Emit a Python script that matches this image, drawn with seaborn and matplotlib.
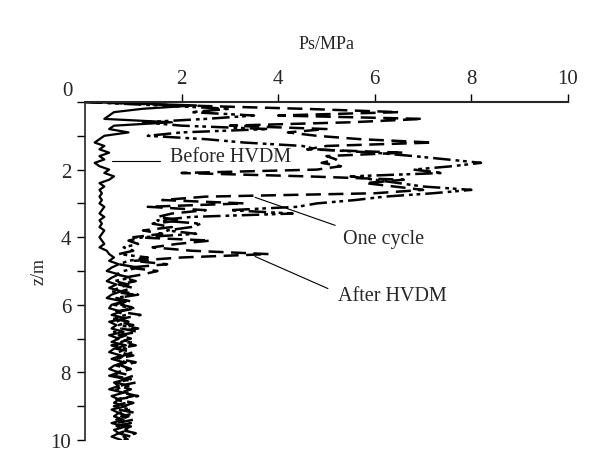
import matplotlib
matplotlib.use("Agg")
import matplotlib.pyplot as plt
import seaborn as sns
import pandas as pd

# depth (m), 0.1 m step
depth = [round(i * 0.1, 1) for i in range(101)]

# cone resistance Ps (MPa) for each stage
ps_before = [
    0.0, 2.3, 1.2, 0.6, 0.5, 0.4, 1.8, 0.6, 0.5, 0.9,
    0.4, 0.3, 0.2, 0.4, 0.3, 0.5, 0.3, 0.4, 0.2, 0.3,
    0.5, 0.4, 0.6, 0.5, 0.3, 0.4, 0.3, 0.35, 0.3, 0.35,
    0.3, 0.4, 0.35, 0.3, 0.4, 0.3, 0.35, 0.3, 0.4, 0.35,
    0.3, 0.35, 0.4, 0.3, 0.45, 0.5, 0.6, 0.5, 0.7, 0.55,
    0.45, 0.7, 0.55, 0.45, 0.65, 0.5, 0.75, 0.55, 0.45, 0.8,
    0.55, 0.5, 0.75, 0.55, 0.85, 0.5, 0.65, 0.55, 0.8, 0.5,
    0.7, 0.55, 0.85, 0.6, 0.5, 0.75, 0.55, 0.8, 0.6, 0.5,
    0.7, 0.5, 0.85, 0.6, 0.7, 0.5, 0.8, 0.55, 0.7, 0.6,
    0.85, 0.55, 0.7, 0.6, 0.8, 0.55, 0.85, 0.6, 0.7, 0.55, 0.75,
]
ps_one_cycle = [
    0.0, 1.5, 3.0, 2.2, 3.5, 2.5, 1.2, 2.0, 3.8, 2.0,
    1.3, 2.5, 3.3, 4.5, 4.8, 6.0, 6.8, 7.5, 8.2, 7.6,
    6.8, 7.4, 5.5, 6.0, 6.5, 7.0, 8.0, 7.2, 6.2, 5.6,
    4.8, 4.4, 3.0, 4.3, 2.2, 1.5, 2.4, 2.2, 1.7, 2.3,
    1.2, 0.9, 1.1, 0.8, 1.0, 0.7, 1.3, 0.9, 0.7, 1.1,
    0.8, 0.65, 0.95, 0.6, 0.9, 0.7, 0.55, 1.0, 0.65, 0.85,
    0.6, 1.0, 0.65, 0.85, 0.55, 0.9, 0.7, 1.1, 0.6, 0.85,
    0.65, 0.95, 0.55, 0.85, 0.7, 1.0, 0.6, 0.85, 0.65, 0.95,
    0.7, 0.6, 0.95, 0.65, 0.9, 0.6, 0.85, 1.0, 0.65, 0.85,
    0.6, 0.95, 0.7, 0.9, 0.65, 0.95, 0.6, 0.9, 0.7, 0.95, 0.8,
]
ps_after = [
    0.0, 2.0, 4.5, 6.5, 4.0, 7.0, 5.5, 3.0, 5.0, 4.2,
    4.8, 5.7, 7.2, 5.0, 4.6, 6.6, 5.0, 5.2, 4.9, 5.3,
    4.8, 2.0, 4.6, 6.6, 5.8, 6.4, 7.0, 6.0, 2.5, 1.6,
    3.3, 1.3, 2.5, 1.8, 1.5, 2.0, 1.4, 1.8, 1.2, 1.6,
    1.0, 2.6, 1.9, 1.4, 2.2, 3.8, 2.0, 1.0, 1.7, 0.9,
    1.5, 1.2, 0.8, 1.05, 0.7, 1.0, 0.75, 1.1, 0.65, 0.95,
    0.75, 1.05, 0.7, 1.15, 0.8, 0.65, 1.0, 0.75, 1.1, 0.7,
    0.95, 0.75, 1.05, 0.65, 1.0, 0.8, 0.7, 1.05, 0.75, 0.95,
    0.65, 1.0, 0.8, 1.05, 0.7, 0.95, 0.75, 1.1, 0.65, 1.0,
    0.8, 0.7, 1.05, 0.75, 1.0, 0.65, 0.95, 0.75, 1.05, 0.8, 0.9,
]

x_ticks = [2, 4, 6, 8, 10]
y_ticks = list(range(0, 11))
y_tick_labels = ["" if (t % 2 or t == 0) else str(t) for t in y_ticks]

sns.set_style("ticks")
plt.rcParams["font.family"] = ["Liberation Serif", "DejaVu Serif"]

fig = plt.figure(figsize=(6.11, 4.56), dpi=100)
ax = fig.add_axes([85 / 611, 1 - 441 / 456, (568 - 85) / 611, (441 - 103) / 456])

df = pd.DataFrame({"z": depth, "before": ps_before,
                   "one": ps_one_cycle, "after": ps_after})

sns.lineplot(data=df, x="before", y="z", sort=False, estimator=None,
             color="black", lw=1.6, ax=ax)
sns.lineplot(data=df, x="one", y="z", sort=False, estimator=None,
             color="black", lw=1.8, ax=ax)
sns.lineplot(data=df, x="after", y="z", sort=False, estimator=None,
             color="black", lw=1.8, ax=ax)
ax.lines[1].set_linestyle((0, (7, 2, 1.5, 1.5, 1.5, 2)))
ax.lines[2].set_linestyle((0, (6, 3)))

ax.set_xlim(0, 10)
ax.set_ylim(10, 0)
ax.xaxis.tick_top()
ax.xaxis.set_label_position("top")
ax.set_xticks(x_ticks)
ax.set_yticks(y_ticks)
ax.set_yticklabels(y_tick_labels)
ax.tick_params(axis="both", direction="out", length=6, width=1,
               labelsize=15, color="black", pad=4)
ax.set_xlabel("Ps/MPa", fontsize=13, labelpad=15)
ax.set_ylabel("z/m", fontsize=13, labelpad=2)
for s in ["right", "bottom"]:
    ax.spines[s].set_visible(False)
ax.spines["top"].set_linewidth(1.5)
ax.spines["left"].set_linewidth(1.2)
ax.text(-0.025, 1.035, "0", transform=ax.transAxes, fontsize=15,
        ha="right", va="center")

# labels with leader lines
ax.plot([0.55, 1.55], [1.75, 1.75], color="black", lw=0.8)
ax.text(1.76, 1.6, "Before HVDM", fontsize=14.5, va="center")
ax.plot([3.52, 5.18], [2.82, 3.65], color="black", lw=0.8)
ax.text(5.34, 4.04, "One cycle", fontsize=14.5, va="center")
ax.plot([3.52, 5.03], [4.57, 5.52], color="black", lw=0.8)
ax.text(5.24, 5.73, "After HVDM", fontsize=14.5, va="center")

fig.savefig("out.png", dpi=100)
